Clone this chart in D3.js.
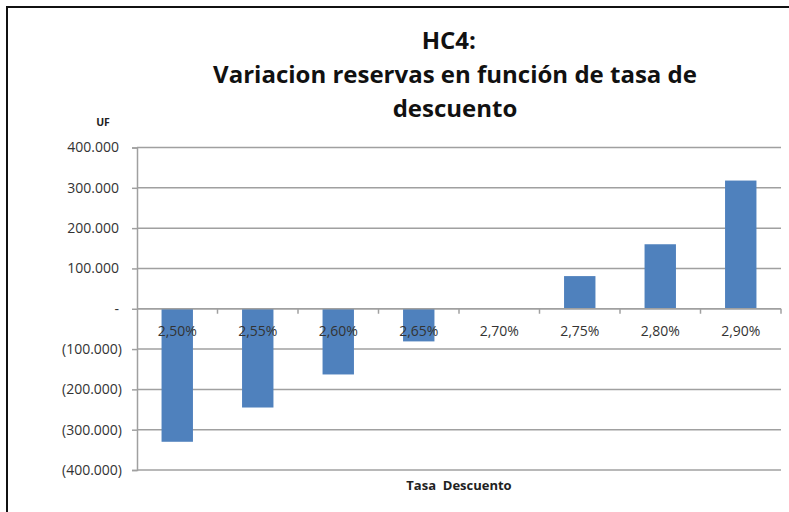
<!DOCTYPE html>
<html><head><meta charset="utf-8">
<script src="https://cdn.jsdelivr.net/npm/d3@7"></script>
<style>body{margin:0;background:#fff}svg{display:block}</style>
</head><body>
<svg id="c" width="789" height="512"></svg>
<script>
const categories = ["2,50%","2,55%","2,60%","2,65%","2,70%","2,75%","2,80%","2,90%"];
const values = [-330000,-245000,-163000,-81000,0,81000,160000,318000];
const yTicks = [400000,300000,200000,100000,0,-100000,-200000,-300000,-400000];
const titleLines = ["HC4:  ","Variacion reservas en función de tasa de","descuento"];
const yAxisTitle = "UF";
const xAxisTitle = "Tasa  Descuento";

const svg = d3.select("#c");
const m = {l:137, r:781, t:147.5, b:470};
const x = d3.scaleBand().domain(categories).range([m.l, m.r]).paddingInner(0.61).paddingOuter(0.305);
const xb = d3.scaleBand().domain(categories).range([m.l, m.r]);
const y = d3.scaleLinear().domain([-400000,400000]).range([m.b, m.t]);
const fmtN = d3.formatLocale({decimal:",", thousands:".", grouping:[3], currency:["",""]}).format(",.0f");
const fmt = v => v === 0 ? "-" : (v < 0 ? "(" + fmtN(-v) + ")" : fmtN(v));

// border
svg.append("path").attr("d","M7,512 V7 H789").attr("fill","none").attr("stroke","#111").attr("stroke-width",2);

// gridlines
const yAxis = d3.axisLeft(y).tickValues(yTicks).tickSize(5).tickFormat(fmt);
svg.append("g").attr("class","grid").selectAll("line").data(yTicks).join("line")
  .attr("x1", m.l).attr("x2", m.r).attr("y1", d=>y(d)).attr("y2", d=>y(d))
  .attr("stroke","#a0a0a0").attr("stroke-width",1.5);

// bars
svg.append("g").selectAll("rect").data(values.map((v,i)=>({c:categories[i],v}))).join("rect")
  .attr("x", d=>x(d.c)).attr("width", x.bandwidth())
  .attr("y", d=>Math.min(y(d.v), y(0))).attr("height", d=>Math.abs(y(d.v)-y(0)))
  .attr("fill","#4f81bd");

// y axis
const gy = svg.append("g").attr("transform",`translate(${m.l},0)`).call(yAxis);
gy.select(".domain").attr("stroke","#a0a0a0").attr("stroke-width",1.5);
gy.selectAll(".tick line").attr("stroke","#a0a0a0").attr("stroke-width",1.5);
gy.selectAll("text").attr("x",d=>d < 0 ? -15 : -18).attr("font-family","'Open Sans', sans-serif").attr("font-size",14).attr("fill","#333");

// x axis at zero
const gx = svg.append("g").attr("transform",`translate(0,${y(0)})`);
gx.append("line").attr("x1",m.l).attr("x2",m.r).attr("stroke","#a0a0a0").attr("stroke-width",1.5);
const bounds = categories.map(c=>xb(c)+xb.bandwidth());
gx.selectAll("line.tk").data(bounds).join("line").attr("class","tk")
  .attr("x1",d=>d).attr("x2",d=>d).attr("y1",0).attr("y2",5).attr("stroke","#a0a0a0").attr("stroke-width",1.5);
gx.selectAll("text").data(categories).join("text")
  .attr("x", d=>xb(d)+xb.bandwidth()/2).attr("y", 27.5).attr("text-anchor","middle")
  .attr("font-family","'Open Sans', sans-serif").attr("font-size",14).attr("fill","#333").text(d=>d);

// titles
svg.append("g").selectAll("text").data(titleLines).join("text")
  .attr("x",455).attr("y",(d,i)=>49+i*34).attr("text-anchor","middle")
  .attr("font-family","'Open Sans', sans-serif").attr("font-weight","bold")
  .attr("font-size",24).attr("fill","#111").style("white-space","pre").text(d=>d);
svg.append("text").attr("x",103).attr("y",126).attr("text-anchor","middle")
  .attr("font-family","'Open Sans', sans-serif").attr("font-weight","bold").attr("font-size",10.5).attr("fill","#222").text(yAxisTitle);
svg.append("text").attr("x",(m.l+m.r)/2).attr("y",489.5).attr("text-anchor","middle")
  .attr("font-family","'Open Sans', sans-serif").attr("font-weight","bold").attr("font-size",13).attr("fill","#222")
  .style("white-space","pre").text(xAxisTitle);
</script>
</body></html>
